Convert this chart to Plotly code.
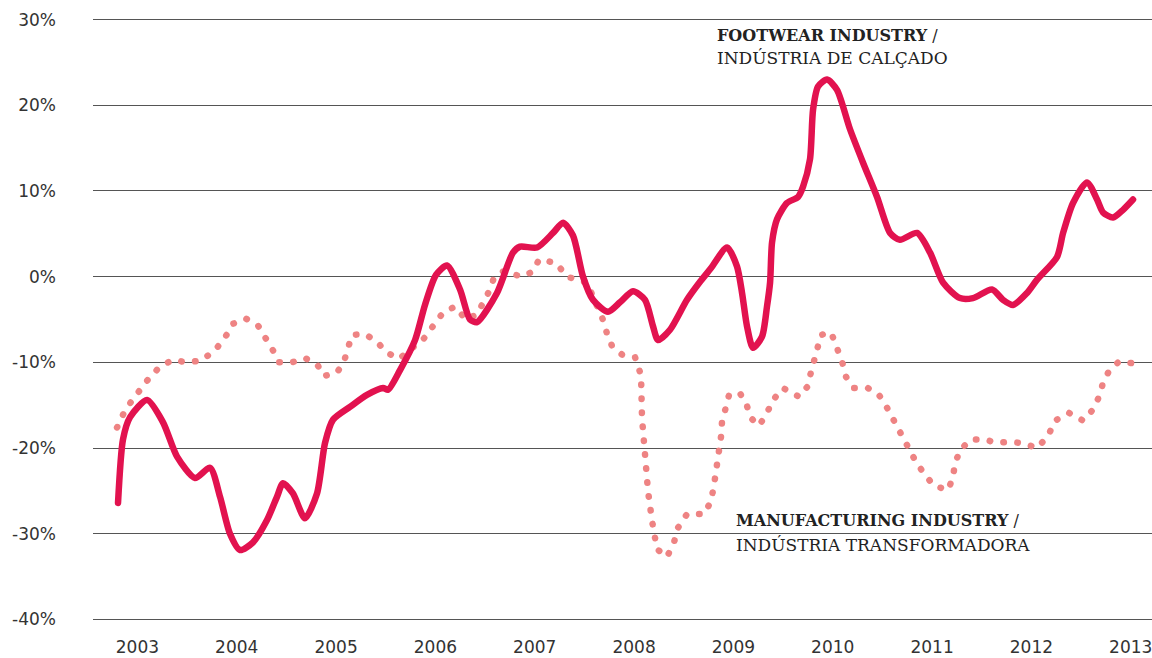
import plotly.graph_objects as go

# Footwear industry (decimal year, % change)
foot_t = [2002.805, 2002.855, 2002.926, 2003.097, 2003.258, 2003.399, 2003.580, 2003.731,
          2003.832, 2003.932, 2004.033, 2004.164, 2004.305, 2004.405, 2004.466, 2004.566,
          2004.687, 2004.808, 2004.889, 2004.969, 2005.140, 2005.311, 2005.473, 2005.523,
          2005.644, 2005.795, 2005.895, 2006.006, 2006.117, 2006.248, 2006.348, 2006.419,
          2006.620, 2006.781, 2006.852, 2007.023, 2007.184, 2007.285, 2007.385, 2007.486,
          2007.586, 2007.738, 2007.858, 2007.989, 2008.110, 2008.191, 2008.241, 2008.362,
          2008.533, 2008.664, 2008.775, 2008.936, 2009.036, 2009.087, 2009.137, 2009.197,
          2009.288, 2009.338, 2009.369, 2009.389, 2009.439, 2009.540, 2009.651, 2009.701,
          2009.771, 2009.802, 2009.852, 2009.943, 2010.043, 2010.174, 2010.305, 2010.446,
          2010.577, 2010.677, 2010.848, 2010.980, 2011.111, 2011.281, 2011.412, 2011.603,
          2011.714, 2011.815, 2011.956, 2012.057, 2012.258, 2012.319, 2012.419, 2012.560,
          2012.661, 2012.721, 2012.822, 2012.923, 2013.023]
foot_v = [-26.4, -19.0, -16.4, -14.4, -17.0, -21.0, -23.5, -22.3,
          -25.7, -30.0, -31.9, -31.0, -28.4, -25.7, -24.1, -25.3,
          -28.2, -25.3, -19.4, -16.7, -15.2, -13.8, -13.0, -13.2,
          -10.9, -7.4, -3.3, 0.2, 1.3, -1.5, -5.0, -5.3,
          -1.9, 2.8, 3.5, 3.4, 5.1, 6.3, 4.8, 0.0,
          -2.7, -4.1, -3.0, -1.7, -2.7, -5.8, -7.4, -6.2,
          -2.7, -0.6, 1.0, 3.4, 1.2, -1.9, -5.8, -8.3,
          -7.0, -3.5, -0.7, 4.0, 6.7, 8.6, 9.3, 10.5,
          13.7, 19.5, 22.2, 23.0, 21.8, 17.2, 13.3, 9.3,
          5.1, 4.3, 5.1, 2.8, -0.7, -2.5, -2.5, -1.5,
          -2.7, -3.3, -1.9, -0.35, 2.3, 5.1, 8.6, 11.0,
          9.0, 7.5, 6.9, 7.8, 9.0]

# Manufacturing industry (decimal year, % change)
manu_t = [2002.795, 2002.855, 2002.936, 2003.026, 2003.127, 2003.228, 2003.358, 2003.489,
          2003.640, 2003.781, 2003.882, 2003.962, 2004.093, 2004.214, 2004.295, 2004.365,
          2004.426, 2004.556, 2004.687, 2004.808, 2004.879, 2005.009, 2005.080, 2005.130,
          2005.160, 2005.291, 2005.412, 2005.503, 2005.634, 2005.885, 2005.986, 2006.077,
          2006.197, 2006.308, 2006.419, 2006.499, 2006.550, 2006.590, 2006.681, 2006.872,
          2006.982, 2007.043, 2007.214, 2007.325, 2007.526, 2007.697, 2007.728, 2007.778,
          2007.879, 2008.010, 2008.070, 2008.080, 2008.110, 2008.141, 2008.181, 2008.231,
          2008.332, 2008.402, 2008.442, 2008.533, 2008.704, 2008.775, 2008.805, 2008.835,
          2008.855, 2008.875, 2008.885, 2008.916, 2008.956, 2009.067, 2009.137, 2009.177,
          2009.258, 2009.338, 2009.399, 2009.499, 2009.661, 2009.741, 2009.781, 2009.822,
          2009.852, 2009.882, 2009.983, 2010.043, 2010.094, 2010.134, 2010.214, 2010.355,
          2010.466, 2010.547, 2010.617, 2010.677, 2010.748, 2010.828, 2010.919, 2011.020,
          2011.161, 2011.211, 2011.231, 2011.292, 2011.392, 2011.533, 2011.644, 2011.755,
          2011.906, 2012.057, 2012.167, 2012.238, 2012.379, 2012.520, 2012.621, 2012.681,
          2012.721, 2012.781, 2012.882, 2013.013]
manu_v = [-17.6, -16.1, -14.6, -13.2, -11.7, -10.5, -9.7, -10.0,
          -9.8, -8.6, -7.1, -5.5, -4.9, -5.7, -7.1, -8.6,
          -10.0, -10.0, -9.5, -10.2, -11.6, -11.2, -9.9, -8.2,
          -6.8, -6.7, -7.6, -8.8, -9.6, -7.2, -5.7, -4.2,
          -3.5, -5.0, -4.4, -2.8, -1.5, -0.1, 0.6, 0.0,
          0.6, 2.0, 1.6, 0.0, -0.7, -5.3, -6.7, -8.1,
          -9.1, -9.4, -11.5, -16.5, -21.6, -25.1, -28.5, -31.8,
          -32.7, -31.0, -29.3, -27.7, -27.7, -26.2, -24.3, -22.3,
          -20.4, -18.7, -17.0, -15.3, -13.8, -13.6, -15.1, -16.5,
          -17.4, -15.9, -14.4, -13.0, -14.0, -12.9, -11.3, -9.8,
          -8.2, -6.8, -6.5, -8.2, -9.9, -11.7, -13.0, -13.0,
          -13.8, -15.3, -16.8, -18.2, -19.9, -21.4, -23.0, -24.4,
          -24.9, -23.4, -21.7, -20.1, -19.0, -19.0, -19.4, -19.3,
          -19.4, -20.0, -18.6, -16.8, -15.9, -16.8, -15.5, -14.0,
          -12.4, -11.0, -9.9, -10.1]

years = list(range(2003, 2014))
year_labels = [str(y) for y in years]
y_ticks = [-40, -30, -20, -10, 0, 10, 20, 30]
y_labels = ["-40%", "-30%", "-20%", "-10%", "0%", "10%", "20%", "30%"]

FOOT_COLOR = "#E2124F"
MANU_COLOR = "#EE8383"
TEXT_COLOR = "#222222"

fig = go.Figure()
fig.add_trace(go.Scatter(
    x=manu_t, y=manu_v, mode="lines",
    line=dict(color=MANU_COLOR, width=6.5, dash="0.5px,13.5px"),
    hoverinfo="skip", showlegend=False,
))
fig.add_trace(go.Scatter(
    x=foot_t, y=foot_v, mode="lines",
    line=dict(color=FOOT_COLOR, width=6.5, shape="spline", smoothing=0.7),
    hoverinfo="skip", showlegend=False,
))

labels = [
    (0.5883, 0.9690, "<b>FOOTWEAR INDUSTRY</b> /", 16),
    (0.5883, 0.9322, "INDÚSTRIA DE CALÇADO", 17),
    (0.6062, 0.1672, "<b>MANUFACTURING INDUSTRY</b> /", 16),
    (0.6062, 0.1275, "INDÚSTRIA TRANSFORMADORA", 17),
]
for lx, ly, txt, fs in labels:
    fig.add_annotation(
        xref="paper", yref="paper", x=lx, y=ly, xanchor="left", yanchor="middle",
        text=txt, showarrow=False, align="left", borderpad=0,
        font=dict(family="DejaVu Serif", size=fs, color=TEXT_COLOR),
    )

fig.update_layout(
    width=1152, height=658,
    margin=dict(l=93, r=0, t=17, b=36, autoexpand=False),
    paper_bgcolor="white", plot_bgcolor="white",
    xaxis=dict(
        range=[2002.553, 2013.214], tickvals=years, ticktext=year_labels,
        showgrid=False, zeroline=False, showline=False, ticks="",
        ticklabelstandoff=13, automargin=False, ticklabeloverflow="allow",
        tickfont=dict(family="DejaVu Sans", size=17, color="#333333"),
        fixedrange=True,
    ),
    yaxis=dict(
        range=[-40.3, 30.3], tickvals=y_ticks, ticktext=y_labels,
        showgrid=True, gridcolor="#555555", gridwidth=1,
        zeroline=False, showline=False, ticks="",
        ticklabelstandoff=36, automargin=False, ticklabeloverflow="allow",
        tickfont=dict(family="DejaVu Sans", size=17, color="#333333"),
        fixedrange=True,
    ),
)

post = """
document.documentElement.style.margin = '0';
document.documentElement.style.padding = '0';
document.body.style.margin = '0';
document.body.style.padding = '0';
document.body.style.overflow = 'hidden';
var gd = document.getElementById('{plot_id}');
gd.querySelectorAll('.scatterlayer .trace path.js-line').forEach(function(p){
  p.style.strokeLinecap = 'round';
  p.style.strokeLinejoin = 'round';
});
"""

fig.write_html("out.html", post_script=post, config={"displayModeBar": False})
